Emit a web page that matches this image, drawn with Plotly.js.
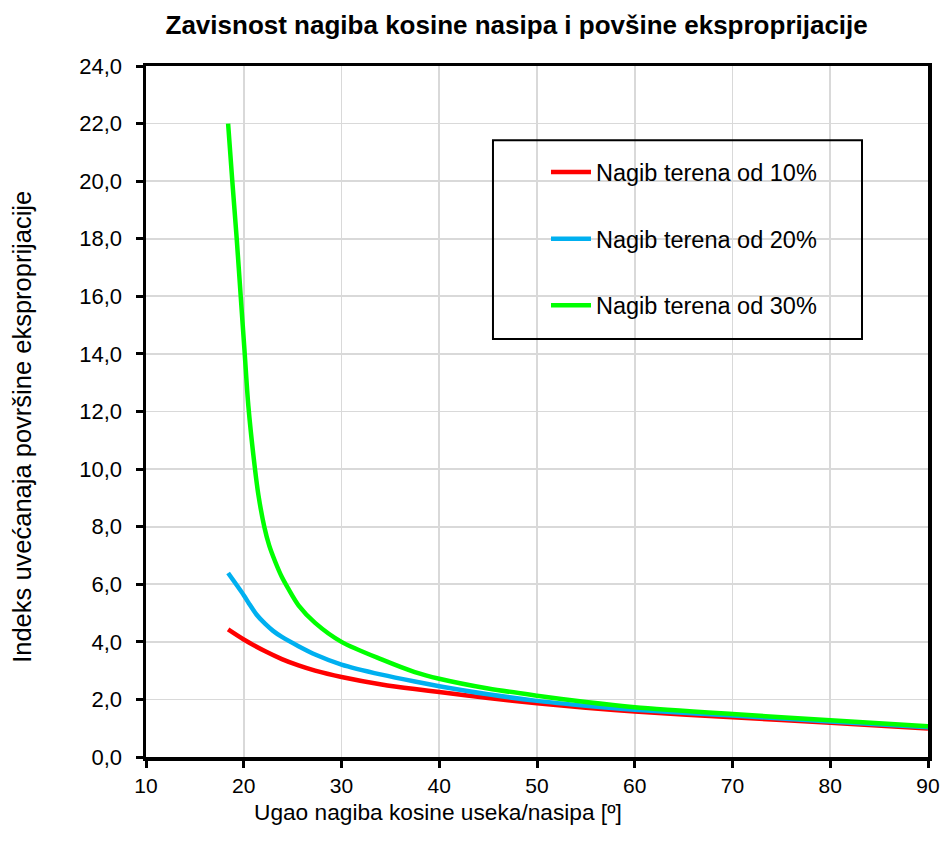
<!DOCTYPE html>
<html>
<head>
<meta charset="utf-8">
<script src="https://cdn.plot.ly/plotly-3.0.1.min.js"></script>
<style>html,body{margin:0;padding:0;background:#fff;}#chart{width:944px;height:846px;}</style>
</head>
<body>
<div id="chart"></div>
<script>
// Data
const seriesNames = ["Nagib terena od 10%", "Nagib terena od 20%", "Nagib terena od 30%"];
const seriesColors = ["#ff0000", "#00b0f0", "#00ff00"];

const x10 = [18.4, 20.0, 22.2, 23.9, 25.6, 27.3, 30.0, 34.1, 37.5, 40.0, 45.0, 50.0, 55.0, 60.0, 70.0, 80.0, 90.0];
const y10 = [4.43, 4.08, 3.67, 3.40, 3.18, 3.00, 2.78, 2.52, 2.36, 2.26, 2.05, 1.87, 1.71, 1.58, 1.38, 1.19, 0.99];

const x20 = [18.4, 20.0, 20.5, 21.3, 22.2, 23.0, 23.9, 25.6, 27.3, 30.0, 34.1, 37.5, 40.0, 45.0, 50.0, 55.0, 60.0, 70.0, 80.0, 90.0];
const y20 = [6.39, 5.62, 5.35, 4.95, 4.62, 4.38, 4.17, 3.85, 3.56, 3.21, 2.86, 2.62, 2.46, 2.18, 1.95, 1.78, 1.64, 1.44, 1.23, 1.03];

const x30 = [18.4, 18.83, 19.28, 19.69, 20.1, 20.47, 21.15, 21.5, 22.1, 22.6, 23.2, 23.9, 24.6, 25.6, 27.3, 30.0, 34.1, 37.5, 40.0, 45.0, 50.0, 55.0, 60.0, 70.0, 80.0, 90.0];
const y30 = [22.0, 20.0, 18.0, 16.0, 14.0, 12.2, 10.0, 9.1, 8.0, 7.35, 6.8, 6.25, 5.82, 5.27, 4.66, 4.00, 3.39, 2.95, 2.72, 2.38, 2.13, 1.91, 1.73, 1.49, 1.28, 1.07];

const yTicks = [0, 2, 4, 6, 8, 10, 12, 14, 16, 18, 20, 22, 24];
const xTicks = [10, 20, 30, 40, 50, 60, 70, 80, 90];

const xs = [x10, x20, x30];
const ys = [y10, y20, y30];

const FONT = "Arial, 'Liberation Sans', sans-serif";

const traces = seriesNames.map((name, i) => ({
  type: "scatter",
  mode: "lines",
  name: name,
  x: xs[i],
  y: ys[i],
  legendgroup: "g" + i,
  line: {color: seriesColors[i], width: 4.5, shape: "spline", smoothing: 0.8}
}));

const layout = {
  width: 944,
  height: 846,
  margin: {l: 146, r: 16, t: 66, b: 89},
  paper_bgcolor: "#ffffff",
  plot_bgcolor: "#ffffff",
  separators: ", ",
  font: {family: FONT, color: "#000000", size: 20},
  title: {
    text: "<b>Zavisnost nagiba kosine nasipa i povšine eksproprijacije</b>",
    font: {family: FONT, size: 26, color: "#000000"},
    xref: "paper", x: 0.474, xanchor: "center",
    yref: "container", y: 0.971, yanchor: "middle"
  },
  xaxis: {
    range: [10, 90],
    tickvals: xTicks,
    ticktext: xTicks.map(String),
    showgrid: true, gridcolor: "#d9d9d9", gridwidth: 1.7,
    showline: true, linecolor: "#000000", linewidth: 3.5, mirror: true,
    ticks: "outside", ticklen: 7, tickwidth: 3, tickcolor: "#000000",
    ticklabelstandoff: 0,
    tickfont: {family: FONT, size: 21, color: "#000000"},
    zeroline: false, fixedrange: true
  },
  yaxis: {
    range: [0, 24],
    tickvals: yTicks,
    tickformat: ".1f",
    showgrid: true, gridcolor: "#d9d9d9", gridwidth: 1.7,
    showline: true, linecolor: "#000000", linewidth: 3.5, mirror: true,
    ticks: "outside", ticklen: 7, tickwidth: 3, tickcolor: "#000000",
    ticklabelstandoff: 9,
    tickfont: {family: FONT, size: 22, color: "#000000"},
    zeroline: false, fixedrange: true
  },
  showlegend: true,
  legend: {
    x: 0.5115, xanchor: "left",
    y: 0.878, yanchor: "top",
    bgcolor: "rgba(0,0,0,0)",
    borderwidth: 0,
    font: {family: FONT, size: 23.5, color: "#000000"},
    traceorder: "grouped",
    tracegroupgap: 33,
    itemwidth: 40
  },
  shapes: [{
    type: "rect", xref: "paper", yref: "paper",
    x0: 0.4437, x1: 0.9156, y0: 0.605, y1: 0.8926,
    line: {color: "#000000", width: 2}, fillcolor: "rgba(0,0,0,0)"
  }],
  annotations: [{
    text: "Ugao nagiba kosine useka/nasipa [º]",
    xref: "paper", yref: "paper",
    x: (438 - 146) / 782, y: -(812 - 757) / 691,
    xanchor: "center", yanchor: "middle",
    showarrow: false,
    font: {family: FONT, size: 22.7, color: "#000000"}
  }, {
    text: "Indeks uvećanaja površine eksproprijacije",
    xref: "paper", yref: "paper",
    x: (22 - 146) / 782, y: (757.6 - 427) / 691.9,
    xanchor: "center", yanchor: "middle",
    textangle: -90,
    showarrow: false,
    font: {family: FONT, size: 25.5, color: "#000000"}
  }]
};

Plotly.newPlot("chart", traces, layout, {displayModeBar: false, staticPlot: true});
</script>
</body>
</html>
